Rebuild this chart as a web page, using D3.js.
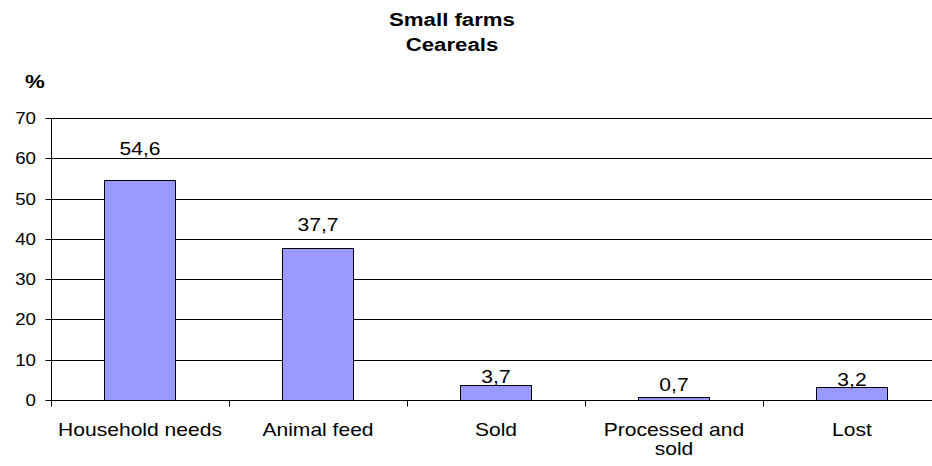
<!DOCTYPE html>
<html>
<head>
<meta charset="utf-8">
<script src="https://cdn.jsdelivr.net/npm/d3@7"></script>
<style>
  body { margin: 0; background: #fff; }
  text { font-family: "Liberation Sans", Arial, sans-serif; fill: #000; }
</style>
</head>
<body>
<div id="chart"></div>
<script>
let categories = ["Household needs", "Animal feed", "Sold", "Processed and sold", "Lost"];
let catLines = [["Household needs"], ["Animal feed"], ["Sold"], ["Processed and", "sold"], ["Lost"]];
let values = [54.6, 37.7, 3.7, 0.7, 3.2];
let valueLabels = ["54,6", "37,7", "3,7", "0,7", "3,2"];
let yTicks = [0, 10, 20, 30, 40, 50, 60, 70];
let titleLines = ["Small farms", "Ceareals"];

let W = 932, H = 466;
let SX = 1.17; // text in the picture is a bit stretched sideways

let svg = d3.select("#chart").append("svg")
    .attr("width", W)
    .attr("height", H);

let plotLeft = 51, plotTop = 118, plotBottom = 400, band = 178;

let x = d3.scaleBand()
    .domain(categories)
    .range([plotLeft, plotLeft + band * categories.length])
    .padding(0);

let y = d3.scaleLinear()
    .domain([0, 70])
    .range([plotBottom, plotTop]);

// labels sit on their own scale, like in the original
let yLab = d3.scaleLinear()
    .domain([0, 70])
    .range([plotBottom, plotBottom - 4.48 * 70]);

function stretched(sel, px, py) {
    sel.attr("transform", "translate(" + px + "," + py + ") scale(" + SX + ",1)");
}

// grid lines
svg.append("g")
    .selectAll("line")
    .data(yTicks.slice(1))
    .enter().append("line")
    .attr("x1", plotLeft)
    .attr("x2", x.range()[1])
    .attr("y1", d => Math.round(y(d)) + 0.5)
    .attr("y2", d => Math.round(y(d)) + 0.5)
    .attr("stroke", "#000")
    .attr("stroke-width", 1);

// bars
let barW = x.bandwidth() * 0.4;
svg.append("g")
    .selectAll("rect")
    .data(values)
    .enter().append("rect")
    .attr("x", (d, i) => Math.round(x(categories[i]) + (x.bandwidth() - barW) / 2) + 0.5)
    .attr("y", d => Math.round(y(d)) + 0.5)
    .attr("width", Math.round(barW))
    .attr("height", d => Math.round(y(0)) - Math.round(y(d)))
    .attr("fill", "#9999ff")
    .attr("stroke", "#000")
    .attr("stroke-width", 1);

// y axis
let yAxis = d3.axisLeft(y)
    .tickValues(yTicks)
    .tickSize(6)
    .tickFormat(d3.format("d"));

let gy = svg.append("g")
    .attr("transform", "translate(" + (plotLeft + 0.5) + ",0.5)")
    .call(yAxis);
gy.select(".domain").attr("d", "M0," + plotTop + "V" + plotBottom).attr("stroke", "#000");
gy.selectAll(".tick").attr("transform", d => "translate(0," + Math.round(y(d)) + ")");
gy.selectAll(".tick line").attr("stroke", "#000");
gy.selectAll(".tick text").remove();

svg.append("g")
    .selectAll("text")
    .data(yTicks)
    .enter().append("text")
    .attr("text-anchor", "end")
    .attr("dy", "0.35em")
    .style("font-size", "16px")
    .text(d => d)
    .each(function (d) { stretched(d3.select(this), plotLeft - 15, Math.round(y(d))); });

// x axis
let gx = svg.append("g")
    .attr("transform", "translate(0," + (Math.round(y(0)) + 0.5) + ")");
gx.append("line")
    .attr("x1", plotLeft)
    .attr("x2", x.range()[1])
    .attr("stroke", "#000");
gx.selectAll(".xt")
    .data(categories)
    .enter().append("line")
    .attr("class", "xt")
    .attr("x1", d => Math.round(x(d)) + 0.5)
    .attr("x2", d => Math.round(x(d)) + 0.5)
    .attr("y1", 0)
    .attr("y2", 6)
    .attr("stroke", "#000");

// category labels
catLines.forEach(function (lines, i) {
    let cx = x(categories[i]) + x.bandwidth() / 2;
    lines.forEach(function (line, j) {
        let t = svg.append("text")
            .attr("text-anchor", "middle")
            .style("font-size", "18px")
            .text(line);
        stretched(t, cx, 436 + j * 19);
    });
});

// value labels
svg.append("g")
    .selectAll("text")
    .data(values)
    .enter().append("text")
    .attr("text-anchor", "middle")
    .style("font-size", "18px")
    .text((d, i) => valueLabels[i])
    .each(function (d, i) {
        let cx = x(categories[i]) + x.bandwidth() / 2;
        stretched(d3.select(this), cx, Math.min(yLab(d), y(0) - 9));
    });

// title
titleLines.forEach(function (line, j) {
    let t = svg.append("text")
        .attr("text-anchor", "middle")
        .style("font-size", "19px")
        .style("font-weight", "bold")
        .text(line);
    stretched(t, 452, 26 + j * 25);
});

// unit
let u = svg.append("text")
    .style("font-size", "19px")
    .style("font-weight", "bold")
    .text("%");
stretched(u, 25, 88);
</script>
</body>
</html>
